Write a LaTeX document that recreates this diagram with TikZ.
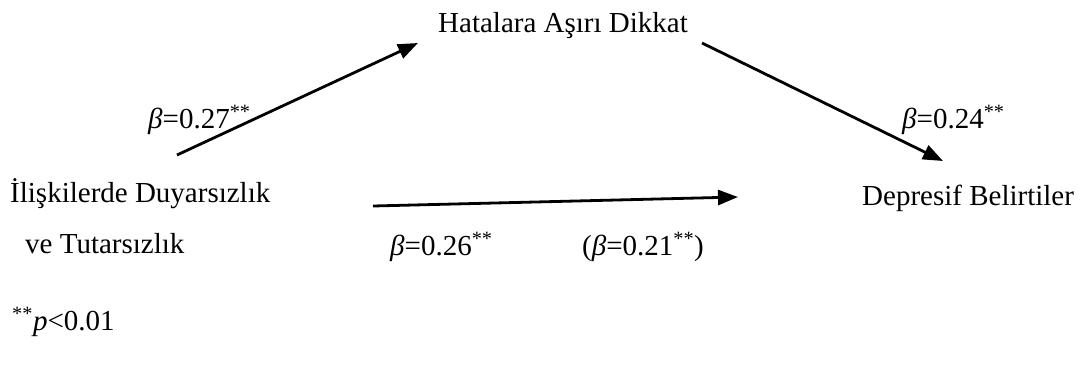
\documentclass[tikz,border=0pt]{standalone}
\usepackage{fontspec}
\setmainfont{Liberation Serif}
\usetikzlibrary{arrows.meta}
\newcommand{\sig}{\textsuperscript{**}}
\begin{document}
\begin{tikzpicture}[x=1pt,y=-1pt,
  lbl/.style={anchor=base west, inner sep=0pt, font=\fontsize{29}{34}\selectfont},
  patharrow/.style={line width=2.8pt, -{Triangle[length=20pt,width=15pt]}}]
\useasboundingbox (0,0) rectangle (1083,365);
% variables
\node[lbl] (med) at (438,32) {Hatalara Aşırı Dikkat};
\node[lbl] (x1) at (10,202) {İlişkilerde Duyarsızlık};
\node[lbl] (x2) at (25,253) {ve Tutarsızlık};
\node[lbl] (y) at (862,205) {Depresif Belirtiler};
% coefficient labels
\node[lbl] (ba) at (148,128) {\textit{β}=0.27\sig};
\node[lbl] (bb) at (902,128) {\textit{β}=0.24\sig};
\node[lbl] (bc) at (390,255) {\textit{β}=0.26\sig};
\node[lbl] (bcp) at (582,255) {(\textit{β}=0.21\sig)};
\node[lbl] (note) at (12,330) {\sig\textit{p}<0.01};
% arrow end points
\coordinate (a1s) at (177,155);
\coordinate (a1e) at (418,43);
\coordinate (a2s) at (702,43);
\coordinate (a2e) at (943,161);
\coordinate (a3s) at (373,206);
\coordinate (a3e) at (738,197);
\draw[patharrow] (a1s) -- (a1e);
\draw[patharrow] (a2s) -- (a2e);
\draw[patharrow] (a3s) -- (a3e);
\end{tikzpicture}
\end{document}
